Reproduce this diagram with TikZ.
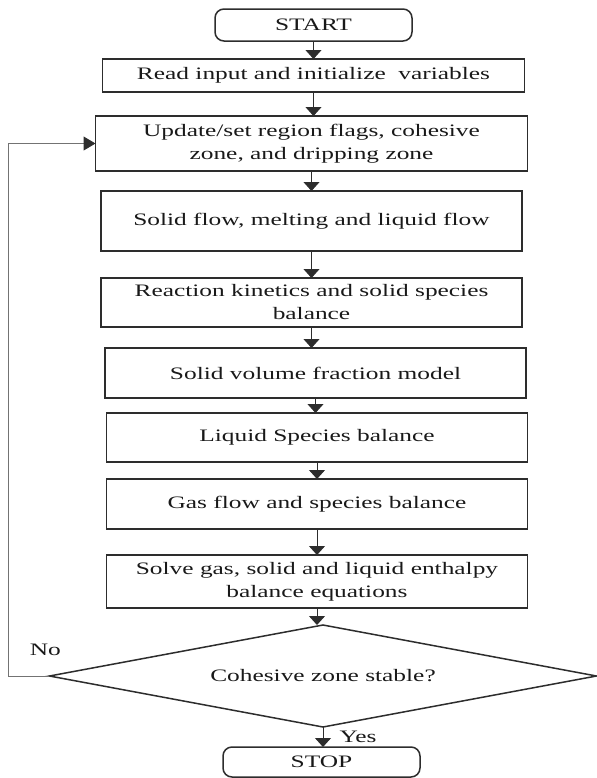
\documentclass[tikz,border=0pt]{standalone}
\usepackage{fontspec}
\setmainfont[FakeStretch=1.45]{Liberation Serif}
\usepackage{tikz}
\usetikzlibrary{arrows.meta,shapes.geometric,positioning}
\definecolor{fcline}{RGB}{45,45,45}
\definecolor{fctext}{RGB}{25,25,25}
\definecolor{fcloop}{RGB}{115,115,115}
\tikzstyle{stage} = [rectangle, minimum width=210.5pt, text centered, align=center, draw=fcline, line width=0.75pt, text=fctext, inner sep=1pt, outer sep=0pt, font=\fontsize{8.75}{11.5}\selectfont]
\tikzstyle{terminal} = [stage, rounded corners=4.5pt, minimum width=98.5pt]
\tikzstyle{decision} = [diamond, aspect=5.36, minimum width=273.5pt, minimum height=51pt, draw=fcline, line width=0.75pt, inner sep=0pt, outer sep=0pt, text=fctext, font=\fontsize{8.75}{11.5}\selectfont]
\tikzstyle{answer} = [text=fctext, inner sep=2pt, font=\fontsize{8.75}{11.5}\selectfont]
\tikzstyle{arrow} = [line width=0.5pt, -{Triangle[width=8pt,length=4.5pt]}, color=fcline]
\tikzstyle{loop arrow} = [line width=0.5pt, -{Triangle[width=7pt,length=6pt,color=fcline]}, color=fcloop]

\begin{document}
\begin{tikzpicture}
\useasboundingbox (0,0) rectangle (298.5pt,-389pt);
% Terminal and process nodes
\node (start) [terminal, minimum height=16pt] at (156.75pt,-12.5pt) {START};
\node (read) [stage, minimum width=211pt, minimum height=16.5pt, below=9pt of start] {Read input and initialize\ \ variables};
\node (update) [stage, minimum width=216pt, minimum height=27.5pt, below=12pt of read, xshift=-1pt] {Update/set region flags, cohesive\\zone, and dripping zone};
\node (solid) [stage, minimum height=30pt, below=10pt of update] {Solid flow, melting and liquid flow};
\node (kinetics) [stage, minimum height=24.5pt, below=13.5pt of solid] {Reaction kinetics and solid species\\balance};
\node (volume) [stage, minimum height=25pt, below=10.5pt of kinetics, xshift=2pt] {Solid volume fraction model};
\node (liquid) [stage, minimum height=24.5pt, below=7.5pt of volume, xshift=0.75pt] {Liquid Species balance};
\node (gas) [stage, minimum height=25pt, below=8.5pt of liquid] {Gas flow and species balance};
\node (enthalpy) [stage, minimum height=26.5pt, below=13pt of gas] {Solve gas, solid and liquid enthalpy\\balance equations};

% Decision and end
\node (stable) [decision, below=8.5pt of enthalpy, xshift=3pt] {Cohesive zone stable?};
\node (stop) [terminal, minimum height=15pt, below=10pt of stable, xshift=-0.75pt] {STOP};
\coordinate (back) at (4pt,0);

% Arrows
\draw[arrow] (start) -- (start |- read.north);
\draw[arrow] (read) -- (read |- update.north);
\draw[arrow] (update) -- (update |- solid.north);
\draw[arrow] (solid) -- (solid |- kinetics.north);
\draw[arrow] (kinetics) -- (kinetics |- volume.north);
\draw[arrow] (volume) -- (volume |- liquid.north);
\draw[arrow] (liquid) -- (liquid |- gas.north);
\draw[arrow] (gas) -- (gas |- enthalpy.north);
\draw[arrow] (enthalpy) -- (enthalpy |- stable.north);
\draw[arrow] (stable) -- node (yes) [answer, right=6pt] {Yes} (stable |- stop.north);
\draw[loop arrow] (stable) -- node (no) [answer, pos=0.1, above=8pt] {No} (stable.west -| back) |- (update);
\end{tikzpicture}
\end{document}
